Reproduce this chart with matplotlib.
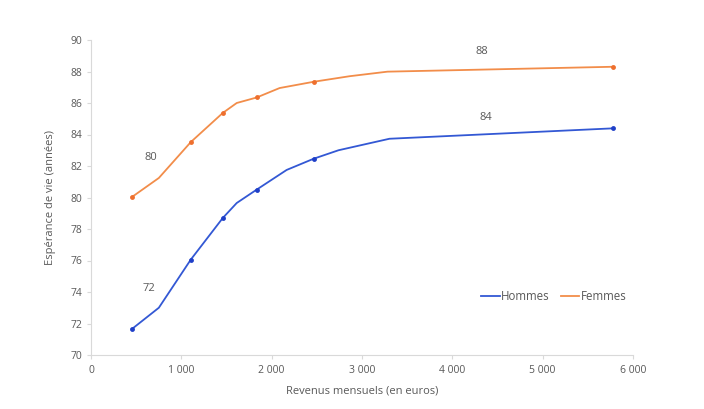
import matplotlib.pyplot as plt
from matplotlib.ticker import FuncFormatter

# revenus mensuels (euros) et esperance de vie (annees)
hommes_x = [453, 751, 1105, 1459, 1613, 1834, 2166, 2464, 2740, 3304, 5775]
hommes_y = [71.65, 73.0, 76.06, 78.7, 79.65, 80.5, 81.75, 82.46, 83.0, 83.73, 84.39]
hommes_pts_x = [453, 1105, 1459, 1834, 2464, 5775]
hommes_pts_y = [71.65, 76.06, 78.7, 80.5, 82.46, 84.39]

femmes_x = [453, 751, 1105, 1459, 1613, 1834, 2088, 2467, 2862, 3282, 5775]
femmes_y = [80.03, 81.24, 83.52, 85.37, 86.0, 86.35, 86.95, 87.35, 87.7, 87.99, 88.3]
femmes_pts_x = [453, 1105, 1459, 1834, 2467, 5775]
femmes_pts_y = [80.03, 83.52, 85.37, 86.35, 87.35, 88.3]

etiquettes = ["72", "80", "84", "88"]
etiq_x = [641, 663, 4376, 4331]
etiq_y = [74.25, 82.57, 85.11, 89.24]

BLEU = "#3358d4"
BLEU_PT = "#1f3fc8"
ORANGE = "#f28d4a"
ORANGE_PT = "#ee6f2e"
GRIS = "#595959"
AXE = "#d9d9d9"

plt.rcParams['font.family'] = ['Open Sans', 'DejaVu Sans']

fig = plt.figure(figsize=(7.04, 4.09), dpi=100)
ax = fig.add_axes([91 / 704, 1 - 355 / 409, (633 - 91) / 704, (355 - 40) / 409])

ax.plot(hommes_x, hommes_y, color=BLEU, lw=1.3, label="Hommes")
ax.plot(hommes_pts_x, hommes_pts_y, 'o', color=BLEU_PT, ms=3.5, mew=0)
ax.plot(femmes_x, femmes_y, color=ORANGE, lw=1.3, label="Femmes")
ax.plot(femmes_pts_x, femmes_pts_y, 'o', color=ORANGE_PT, ms=3.5, mew=0)

for t, x, y in zip(etiquettes, etiq_x, etiq_y):
   ax.text(x, y, t, color=GRIS, fontsize=8, ha='center', va='center')

ax.set_xlim(0, 6000)
ax.set_ylim(70, 90)
ax.set_xticks(range(0, 6001, 1000))
ax.set_yticks(range(70, 91, 2))
ax.xaxis.set_major_formatter(FuncFormatter(lambda v, p: "{:,}".format(int(v)).replace(",", " ")))

for s in ["top", "right"]:
   ax.spines[s].set_visible(False)
for s in ["left", "bottom"]:
   ax.spines[s].set_color(AXE)
ax.tick_params(colors=GRIS, labelsize=7.5, length=3, color=AXE)
ax.tick_params(axis='x', pad=4)

ax.set_xlabel("Revenus mensuels (en euros)", color=GRIS, fontsize=8, labelpad=7)
ax.set_ylabel("Espérance de vie (années)", color=GRIS, fontsize=8, labelpad=10)

leg = ax.legend(loc='center left', bbox_to_anchor=(0.72, 0.186), ncol=2, frameon=False,
                fontsize=8.3, handlelength=1.6, handletextpad=0.1, columnspacing=1.0,
                borderaxespad=0, borderpad=0)
for txt in leg.get_texts():
   txt.set_color(GRIS)

fig.savefig("out.png", dpi=100)
